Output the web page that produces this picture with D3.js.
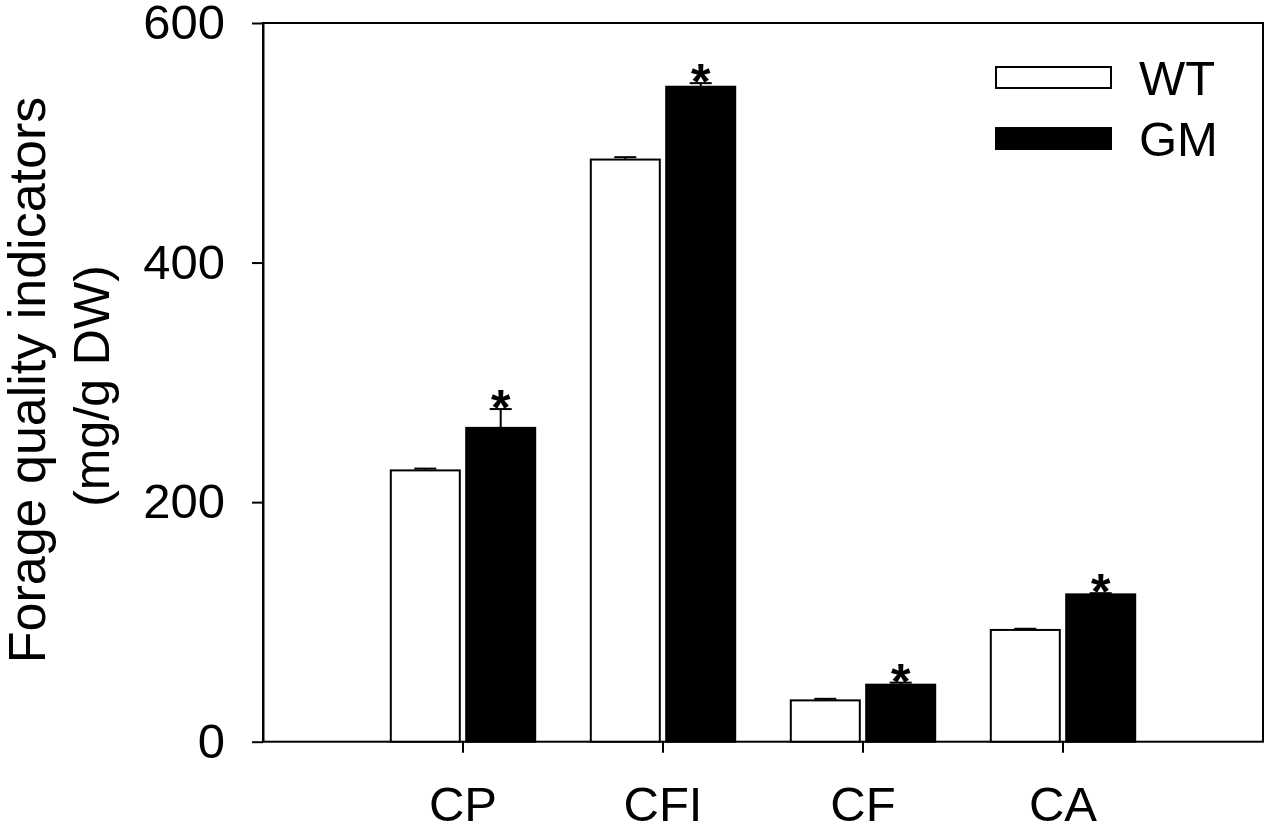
<!doctype html>
<html lang="en">
<head>
<meta charset="utf-8">
<title>Forage quality indicators</title>
<style>
  body { margin: 0; background: #fff; }
  svg text { font-family: "Liberation Sans", Arial, sans-serif; fill: #000; }
</style>
</head>
<body>
<svg id="chart"></svg>
<script src="https://d3js.org/d3.v7.min.js"></script>
<script>
// values
var categories = ["CP", "CFI", "CF", "CA"];
var wtValues = [226.5, 486, 34.5, 93.3];
var wtErrors = [1.5, 2, 1.3, 1];
var gmValues = [262, 546.8, 47.6, 123];
var gmErrors = [15.7, 3, 1.7, 1];
var significant = [true, true, true, true];
var yTicks = [0, 200, 400, 600];
var seriesNames = ["WT", "GM"];

var width = 1267, height = 827;
// (window.top is read-only, so plot edges get their own names)
var plotLeft = 263, plotRight = 1263, plotTop = 23, plotBottom = 741.7;

var svg = d3.select("#chart")
  .attr("width", width)
  .attr("height", height);

var y = d3.scaleLinear().domain([0, 600]).range([plotBottom, plotTop]);
// five equal slots across the frame, groups sit on slots 1..4
var x = d3.scaleBand().domain(categories)
  .range([plotLeft + (plotRight - plotLeft) / 10, plotRight - (plotRight - plotLeft) / 10])
  .padding(0);

var barW = 69, gap = 3.2;

var rows = categories.map(function(c, i) {
  return {cat: c, wt: wtValues[i], wtErr: wtErrors[i], gm: gmValues[i], gmErr: gmErrors[i], sig: significant[i]};
});

// frame
svg.append("rect")
  .attr("x", plotLeft).attr("y", plotTop)
  .attr("width", plotRight - plotLeft).attr("height", plotBottom - plotTop)
  .attr("fill", "none").attr("stroke", "#000").attr("stroke-width", 2);

var g = svg.selectAll("g.grp").data(rows).enter().append("g").attr("class", "grp");
var cx = function(d) { return x(d.cat) + x.bandwidth() / 2; };

// error bars (upward only), drawn under bars
function errBar(sel, xf, vf, ef) {
  sel.append("line")
    .attr("x1", xf).attr("x2", xf)
    .attr("y1", function(d) { return y(vf(d)); })
    .attr("y2", function(d) { return y(vf(d) + ef(d)); })
    .attr("stroke", "#000").attr("stroke-width", 2);
  sel.append("line")
    .attr("x1", function(d) { return xf(d) - 11; })
    .attr("x2", function(d) { return xf(d) + 11; })
    .attr("y1", function(d) { return y(vf(d) + ef(d)); })
    .attr("y2", function(d) { return y(vf(d) + ef(d)); })
    .attr("stroke", "#000").attr("stroke-width", 2);
}
errBar(g, function(d) { return cx(d) - gap - barW / 2; }, function(d) { return d.wt; }, function(d) { return d.wtErr; });
errBar(g, function(d) { return cx(d) + gap + barW / 2; }, function(d) { return d.gm; }, function(d) { return d.gmErr; });

g.append("rect")
  .attr("x", function(d) { return cx(d) - gap - barW; })
  .attr("y", function(d) { return y(d.wt); })
  .attr("width", barW)
  .attr("height", function(d) { return y(0) - y(d.wt); })
  .attr("fill", "#fff").attr("stroke", "#000").attr("stroke-width", 2);

g.append("rect")
  .attr("x", function(d) { return cx(d) + gap; })
  .attr("y", function(d) { return y(d.gm); })
  .attr("width", barW)
  .attr("height", function(d) { return y(0) - y(d.gm); })
  .attr("fill", "#000").attr("stroke", "#000").attr("stroke-width", 2);

// significance stars
g.filter(function(d) { return d.sig; }).append("text")
  .attr("x", function(d) { return cx(d) + gap + barW / 2; })
  .attr("y", function(d) { return y(d.gm + d.gmErr) + 16; })
  .attr("text-anchor", "middle")
  .attr("font-size", 50).attr("font-weight", "bold")
  .text("*");

// y axis
var yAxis = d3.axisLeft(y).tickValues(yTicks).tickSize(11).tickPadding(27).tickSizeOuter(0);
var ya = svg.append("g").attr("transform", "translate(" + plotLeft + ",0)").call(yAxis);
ya.selectAll("text").attr("font-size", 49).attr("font-family", "'Liberation Sans', Arial, sans-serif");
ya.selectAll("line, path").attr("stroke", "#000").attr("stroke-width", 2);

// x axis
var xAxis = d3.axisBottom(x).tickSize(11).tickPadding(34).tickSizeOuter(0);
var xa = svg.append("g").attr("transform", "translate(0," + plotBottom + ")").call(xAxis);
xa.select("path.domain").remove();
xa.selectAll("text").attr("font-size", 49).attr("font-family", "'Liberation Sans', Arial, sans-serif");
xa.selectAll("line").attr("stroke", "#000").attr("stroke-width", 2);

// y label
svg.append("text")
  .attr("transform", "translate(45,380) rotate(-90)")
  .attr("text-anchor", "middle")
  .attr("font-size", 52)
  .text("Forage quality indicators");
svg.append("text")
  .attr("transform", "translate(109,386) rotate(-90)")
  .attr("text-anchor", "middle")
  .attr("font-size", 50)
  .text("(mg/g DW)");

// legend
var leg = svg.selectAll("g.leg").data(seriesNames).enter().append("g").attr("class", "leg")
  .attr("transform", function(d, i) { return "translate(996," + (67 + i * 61) + ")"; });
leg.append("rect")
  .attr("width", 115).attr("height", 21)
  .attr("fill", function(d, i) { return i === 0 ? "#fff" : "#000"; })
  .attr("stroke", "#000").attr("stroke-width", 2);
leg.append("text")
  .attr("x", 143).attr("y", 11)
  .attr("dy", "0.35em")
  .attr("font-size", 49)
  .text(function(d) { return d; });
</script>
</body>
</html>
